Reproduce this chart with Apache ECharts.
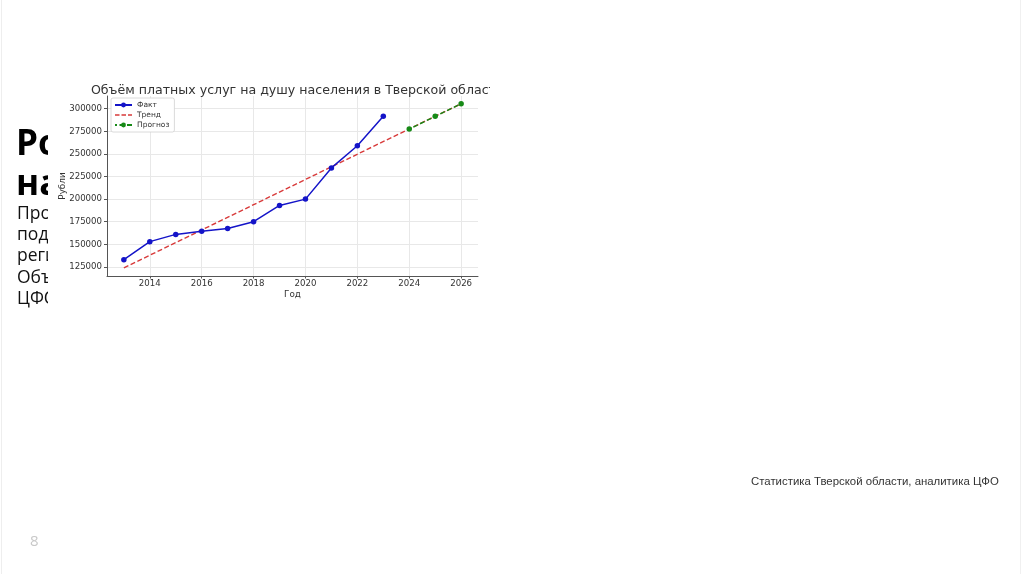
<!DOCTYPE html>
<html>
<head>
<meta charset="utf-8">
<script src="https://cdn.jsdelivr.net/npm/echarts@6/dist/echarts.min.js"></script>
<style>
html,body{margin:0;padding:0;background:#fff;}
#c{width:1024px;height:574px;}
</style>
</head>
<body>
<div id="c"></div>
<script>
// ---- data ----
const chartTitle = 'Объём платных услуг на душу населения в Тверской области';
const factYears = [2013, 2014, 2015, 2016, 2017, 2018, 2019, 2020, 2021, 2022, 2023];
const factValues = [133000, 153000, 161000, 164500, 167500, 175000, 193000, 200000, 234500, 259000, 291500];
const trendYears = [2013, 2026];
const trendValues = [124000, 305500];
const forecastYears = [2024, 2025, 2026];
const forecastValues = [277500, 291500, 305500];
const xTicks = [2014, 2016, 2018, 2020, 2022, 2024, 2026];
const yTicks = [125000, 150000, 175000, 200000, 225000, 250000, 275000, 300000];
const seriesNames = ['Факт', 'Тренд', 'Прогноз'];
const slideHeading = ['Рост платных услуг', 'на душу населения'];
const slideBody = ['Прогноз на 2024–2026 годы', 'подтверждает устойчивый рост', 'региональной экономики.', 'Объём услуг приближается к', 'ЦФО.'];
const sourceNote = 'Статистика Тверской области, аналитика ЦФО';
const pageNumber = '8';

const zip = (xs, ys) => xs.map((x, i) => [x, ys[i]]);

const chart = echarts.init(document.getElementById('c'), null, {renderer: 'canvas'});
const F = 'DejaVu Sans';
const lblColor = '#333';

const graphics = [];
// slide frame lines
graphics.push({type: 'line', z: -30, shape: {x1: 1.5, y1: 0, x2: 1.5, y2: 574}, style: {stroke: '#eeeeee', lineWidth: 1}});
graphics.push({type: 'line', z: -30, shape: {x1: 1020.5, y1: 0, x2: 1020.5, y2: 574}, style: {stroke: '#f0f0f0', lineWidth: 1}});
// heading
const headTops = [128, 168];
slideHeading.forEach((t, i) => {
  graphics.push({type: 'text', z: -20, left: 16, top: headTops[i],
    style: {text: t, font: 'bold 35px "Open Sans"', fill: '#000'}});
});
slideBody.forEach((t, i) => {
  graphics.push({type: 'text', z: -20, left: 17, top: 205 + i * 21.2,
    style: {text: t, font: '17.5px "Open Sans"', fill: '#111'}});
});
// chart image background (covers slide text)
graphics.push({type: 'rect', z: -10, shape: {x: 48, y: 76, width: 442, height: 230}, style: {fill: '#fff'}});
// clip of title at image edge
graphics.push({type: 'rect', z: 100, shape: {x: 490, y: 76, width: 30, height: 22}, style: {fill: '#fff'}});
// source & page number
graphics.push({type: 'text', z: 5, left: 751, top: 476,
  style: {text: sourceNote, font: '11.4px "Liberation Sans"', fill: '#333'}});
graphics.push({type: 'text', z: 5, left: 30, top: 534,
  style: {text: pageNumber, font: '15px "Open Sans"', fill: '#c8c8c8'}});

const trendIcon = 'path://M0,0h0.01v0.01h-0.01z M17,6h-0.01v-0.01h0.01z M0,2.3h4.5v1.4h-4.5z M6.5,2.3h4.5v1.4h-4.5z M13,2.3h4v1.4h-4z';

const option = {
  animation: false,
  backgroundColor: '#fff',
  title: {
    text: chartTitle,
    left: 292.5, textAlign: 'center', top: 79,
    textStyle: {fontFamily: F, fontSize: 12.6, fontWeight: 'normal', color: '#333'}
  },
  graphic: graphics,
  legend: {
    orient: 'vertical', left: 111, top: 98,
    data: [{name: seriesNames[0]}, {name: seriesNames[1], icon: trendIcon}, {name: seriesNames[2]}],
    itemWidth: 17, itemHeight: 6, itemGap: 2,
    padding: [3, 5, 3, 3],
    backgroundColor: '#fff', borderColor: '#d0d0d0', borderWidth: 0.8, borderRadius: 2,
    textStyle: {fontFamily: F, fontSize: 7.5, color: '#333'}
  },
  grid: {left: 107, right: 546, top: 96, bottom: 298, containLabel: false},
  xAxis: {
    type: 'value', min: 2012.35, max: 2026.65,
    name: 'Год', nameLocation: 'middle', nameGap: 14, nameMoveOverlap: false,
    nameTextStyle: {fontFamily: F, fontSize: 8.8, color: '#333'},
    axisLine: {show: true, lineStyle: {color: '#555', width: 1}},
    axisTick: {show: true, length: 2.5, customValues: xTicks, lineStyle: {color: '#555'}},
    axisLabel: {customValues: xTicks, fontFamily: F, fontSize: 8.6, color: lblColor, margin: 3, formatter: v => String(v)},
    splitLine: {show: true, lineStyle: {color: '#e8e8e8', width: 1}}
  },
  yAxis: {
    type: 'value', min: 115000, max: 314000,
    name: 'Рубли', nameLocation: 'middle', nameGap: 40, nameRotate: 90, nameMoveOverlap: false,
    nameTextStyle: {fontFamily: F, fontSize: 8.8, color: '#333'},
    axisLine: {show: true, lineStyle: {color: '#555', width: 1}},
    axisTick: {show: true, length: 3, customValues: yTicks, lineStyle: {color: '#555'}},
    axisLabel: {customValues: yTicks, fontFamily: F, fontSize: 8.6, color: lblColor, margin: 5, formatter: v => String(v)},
    splitLine: {show: true, lineStyle: {color: '#e8e8e8', width: 1}}
  },
  series: [
    {
      name: seriesNames[0], type: 'line', data: zip(factYears, factValues),
      symbol: 'circle', symbolSize: 5.5, z: 4,
      itemStyle: {color: '#1414c8'},
      lineStyle: {color: '#1414c8', width: 1.5}
    },
    {
      name: seriesNames[1], type: 'line', data: zip(trendYears, trendValues),
      symbol: 'none', z: 3,
      itemStyle: {color: '#d83a3a'},
      lineStyle: {color: '#d83a3a', width: 1.4, type: [5, 2.5]}
    },
    {
      name: seriesNames[2], type: 'line', data: zip(forecastYears, forecastValues),
      symbol: 'circle', symbolSize: 5.5, z: 4,
      itemStyle: {color: '#178a17'},
      lineStyle: {color: '#178a17', width: 1.4, type: [5, 2.5], dashOffset: 3}
    }
  ]
};
chart.setOption(option);
</script>
</body>
</html>
